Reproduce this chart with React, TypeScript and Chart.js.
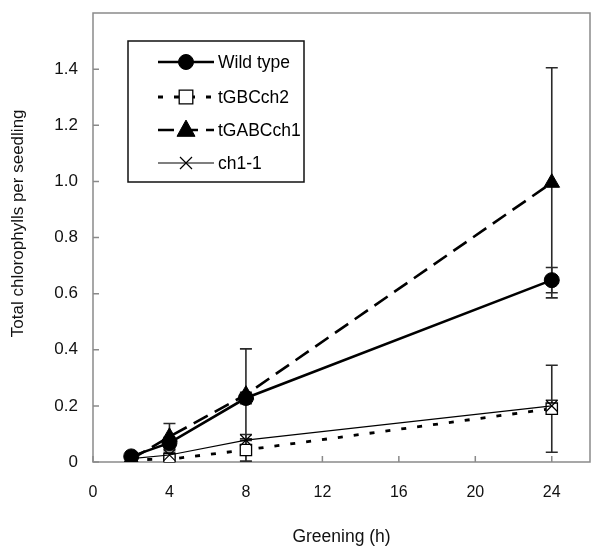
import React, { useEffect, useRef } from "react";
import { Chart, registerables } from "chart.js";

Chart.register(...registerables);

const hours = [2, 4, 8, 24];
const seriesNames = ["Wild type", "tGBCch2", "tGABCch1", "ch1-1"];
const wildType = [0.02, 0.068, 0.228, 0.648];
const tGBCch2 = [0.008, 0.01, 0.043, 0.19];
const tGABCch1 = [0.01, 0.09, 0.24, 0.995];
const ch11 = [0.012, 0.025, 0.078, 0.2];
const wildTypeErr = [0.005, 0.02, 0.02, 0.045];
const tGBCch2Err = [0.003, 0.01, 0.04, 0.155];
const tGABCch1Err = [0.005, 0.047, 0.163, 0.41];
const ch11Err = [0.003, 0.01, 0.02, 0.02];
const xTicks = [0, 4, 8, 12, 16, 20, 24];
const yTicks = [0, 0.2, 0.4, 0.6, 0.8, 1.0, 1.2, 1.4];

const FONT = "'Liberation Sans', Arial, sans-serif";

export default function App() {
  const ref = useRef<HTMLCanvasElement>(null);
  useEffect(() => {
    const ctx = ref.current!.getContext("2d")!;
    const values = [wildType, tGBCch2, tGABCch1, ch11];
    const errs = [wildTypeErr, tGBCch2Err, tGABCch1Err, ch11Err];

    function drawPt(c: CanvasRenderingContext2D, style: string, r: number, x: number, y: number, fill: string, bw: number) {
      c.beginPath();
      c.lineWidth = bw;
      c.strokeStyle = "#000";
      c.fillStyle = fill;
      if (style === "circle") {
        c.arc(x, y, r, 0, Math.PI * 2);
        c.fill();
        c.stroke();
      } else if (style === "rect") {
        const s = r * 0.85;
        c.rect(x - s, y - s, 2 * s, 2 * s);
        c.fill();
        c.stroke();
      } else if (style === "triangle") {
        c.moveTo(x, y - r * 1.1);
        c.lineTo(x + r, y + r * 0.7);
        c.lineTo(x - r, y + r * 0.7);
        c.closePath();
        c.fill();
        c.stroke();
      } else {
        const s = r * 0.75;
        c.moveTo(x - s, y - s);
        c.lineTo(x + s, y + s);
        c.moveTo(x + s, y - s);
        c.lineTo(x - s, y + s);
        c.stroke();
      }
    }

    const frame = {
      id: "frame",
      beforeDatasetsDraw(chart: any) {
        const { ctx, chartArea: a, scales } = chart;
        ctx.save();
        ctx.strokeStyle = "#8a8a8a";
        ctx.lineWidth = 1.5;
        ctx.strokeRect(a.left, a.top, a.right - a.left, a.bottom - a.top);
        ctx.beginPath();
        for (const v of yTicks) {
          const y = scales.y.getPixelForValue(v);
          ctx.moveTo(a.left, y);
          ctx.lineTo(a.left + 6, y);
        }
        for (const v of xTicks) {
          const x = scales.x.getPixelForValue(v);
          ctx.moveTo(x, a.bottom);
          ctx.lineTo(x, a.bottom - 6);
        }
        ctx.stroke();
        ctx.strokeStyle = "#2a2a2a";
        ctx.lineWidth = 1.6;
        errs.forEach((es, si) => {
          es.forEach((e, i) => {
            const x = scales.x.getPixelForValue(hours[i]);
            const y1 = scales.y.getPixelForValue(values[si][i] + e);
            const y2 = scales.y.getPixelForValue(values[si][i] - e);
            ctx.beginPath();
            ctx.moveTo(x, y1);
            ctx.lineTo(x, y2);
            ctx.moveTo(x - 6, y1);
            ctx.lineTo(x + 6, y1);
            ctx.moveTo(x - 6, y2);
            ctx.lineTo(x + 6, y2);
            ctx.stroke();
          });
        });
        ctx.restore();
      },
    };

    const legend = {
      id: "customLegend",
      afterDatasetsDraw(chart: any) {
        const { ctx } = chart;
        ctx.save();
        ctx.fillStyle = "#fff";
        ctx.fillRect(128, 41, 176, 141);
        ctx.strokeStyle = "#111";
        ctx.lineWidth = 1.5;
        ctx.strokeRect(128, 41, 176, 141);
        const rows = [62, 97, 130, 163];
        chart.data.datasets.forEach((ds: any, i: number) => {
          const y = rows[i];
          ctx.save();
          ctx.strokeStyle = "#000";
          ctx.lineWidth = ds.borderWidth;
          ctx.setLineDash(ds.borderDash || []);
          ctx.beginPath();
          ctx.moveTo(158, y);
          ctx.lineTo(214, y);
          ctx.stroke();
          ctx.setLineDash([]);
          drawPt(ctx, ds.pointStyle, ds.pointRadius, 186, y, ds.pointBackgroundColor, ds.pointBorderWidth);
          ctx.restore();
          ctx.fillStyle = "#000";
          ctx.font = `17.5px ${FONT}`;
          ctx.textBaseline = "middle";
          ctx.fillText(ds.label, 218, y + 1);
        });
        ctx.restore();
      },
    };

    const mk = (data: number[]) => hours.map((h, i) => ({ x: h, y: data[i] }));

    const chart = new Chart(ctx, {
      type: "line",
      data: {
        datasets: [
          {
            label: seriesNames[0],
            data: mk(wildType),
            borderColor: "#000",
            borderWidth: 2.6,
            pointStyle: "circle",
            pointRadius: 7.5,
            pointBackgroundColor: "#000",
            pointBorderColor: "#000",
            pointBorderWidth: 1,
            order: 1,
          },
          {
            label: seriesNames[1],
            data: mk(tGBCch2),
            borderColor: "#000",
            borderWidth: 2.8,
            borderDash: [5, 11],
            pointStyle: "rect",
            pointRadius: 8,
            pointBackgroundColor: "#fff",
            pointBorderColor: "#000",
            pointBorderWidth: 1.3,
            order: 2,
          },
          {
            label: seriesNames[2],
            data: mk(tGABCch1),
            borderColor: "#000",
            borderWidth: 2.6,
            borderDash: [16, 8],
            pointStyle: "triangle",
            pointRadius: 9,
            pointBackgroundColor: "#000",
            pointBorderColor: "#000",
            pointBorderWidth: 1,
            order: 3,
          },
          {
            label: seriesNames[3],
            data: mk(ch11),
            borderColor: "#000",
            borderWidth: 1.1,
            pointStyle: "crossRot",
            pointRadius: 8,
            pointBackgroundColor: "#000",
            pointBorderColor: "#000",
            pointBorderWidth: 1.2,
            order: 0,
          },
        ],
      },
      options: {
        animation: false,
        responsive: false,
        maintainAspectRatio: false,
        layout: { padding: { top: 13, right: 10, left: 0, bottom: 0 } },
        plugins: { legend: { display: false }, tooltip: { enabled: false } },
        scales: {
          x: {
            type: "linear",
            min: 0,
            max: 26,
            grid: { display: false, drawTicks: false },
            border: { display: false },
            afterBuildTicks: (s: any) => {
              s.ticks = xTicks.map((v) => ({ value: v }));
            },
            afterFit: (s: any) => {
              s.height = 95;
              s.paddingLeft = 0;
              s.paddingRight = 0;
            },
            ticks: {
              padding: 21,
              color: "#111",
              font: { family: FONT, size: 16 },
              maxRotation: 0,
              callback: (v: any) => String(v),
            },
            title: {
              display: true,
              text: "Greening (h)",
              color: "#111",
              font: { family: FONT, size: 17.5 },
              padding: { top: 8, bottom: 9.5 },
            },
          },
          y: {
            type: "linear",
            min: 0,
            max: 1.6,
            grid: { display: false, drawTicks: false },
            border: { display: false },
            afterBuildTicks: (s: any) => {
              s.ticks = yTicks.map((v) => ({ value: v }));
            },
            afterFit: (s: any) => {
              s.width = 93;
              s.paddingTop = 0;
              s.paddingBottom = 0;
            },
            ticks: {
              padding: 15,
              color: "#111",
              font: { family: FONT, size: 17 },
              callback: (v: any) => (v === 0 ? "0" : Number(v).toFixed(1)),
            },
            title: {
              display: true,
              text: "      Total chlorophylls per seedling",
              color: "#111",
              font: { family: FONT, size: 17 },
              padding: { top: 8, bottom: 0 },
            },
          },
        },
      },
      plugins: [frame, legend],
    } as any);
    return () => chart.destroy();
  }, []);

  return (
    <div style={{ position: "fixed", left: 0, top: 0, width: 600, height: 557, background: "#fff" }}>
      <canvas ref={ref} width={600} height={557} style={{ width: 600, height: 557 }} />
    </div>
  );
}
